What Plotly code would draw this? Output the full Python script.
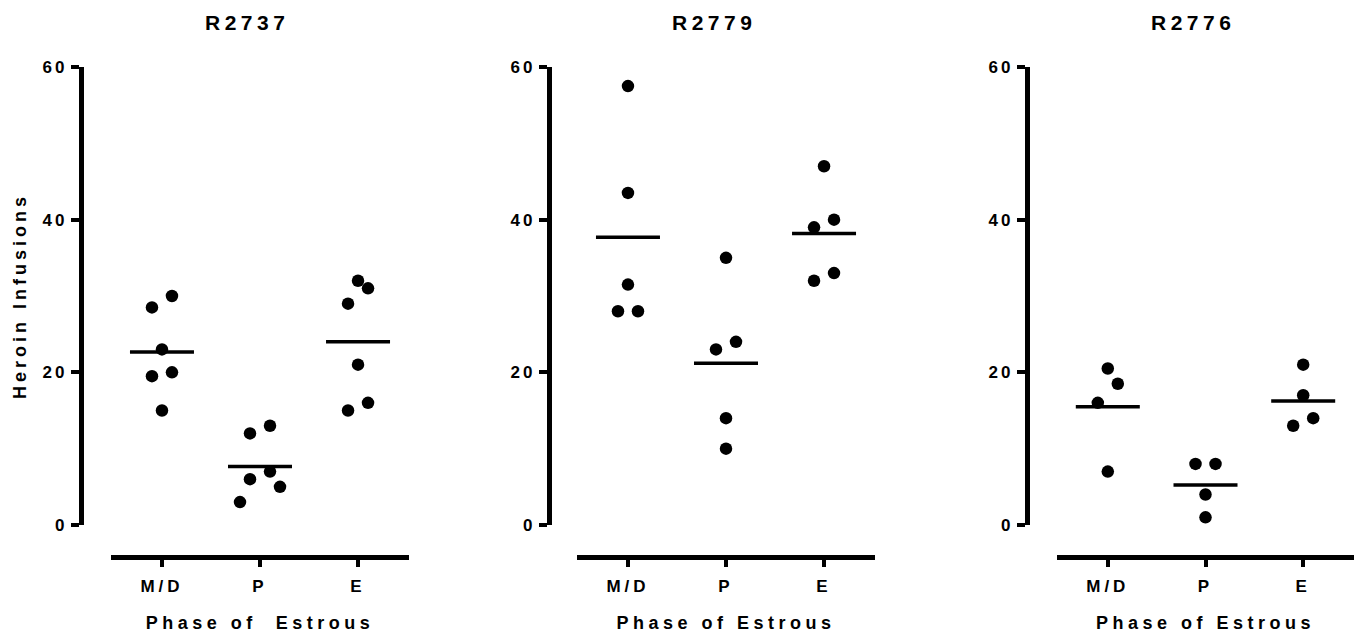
import plotly.graph_objects as go

# ---------------- data ----------------
phases = ["M/D", "P", "E"]
rats = ["R2737", "R2779", "R2776"]

r2737_md = [30, 28.5, 23, 20, 19.5, 15]
r2737_p = [13, 12, 7, 6, 5, 3]
r2737_e = [32, 31, 29, 21, 16, 15]

r2779_md = [57.5, 43.5, 31.5, 28, 28]
r2779_p = [35, 24, 23, 14, 10]
r2779_e = [47, 40, 39, 33, 32]

r2776_md = [20.5, 18.5, 16, 7]
r2776_p = [8, 8, 4, 1]
r2776_e = [21, 17, 14, 13]

y_ticks = [0, 20, 40, 60]
x_titles = ["Phase of  Estrous", "Phase of Estrous", "Phase of Estrous"]
y_title = "Heroin Infusions"

panel_data = [
    [r2737_md, r2737_p, r2737_e],
    [r2779_md, r2779_p, r2779_e],
    [r2776_md, r2776_p, r2776_e],
]

# ---------------- layout geometry (pixels) ----------------
W, H = 1362, 639
Y_TOP, Y_BOT = 67, 525          # pixel rows of y=60 and y=0
X_LINE = 557                    # pixel row of the x axis line
panels_px = [
    dict(yline=80.5, x0=111, x1=409),
    dict(yline=548.5, x0=577, x1=875),
    dict(yline=1026.5, x0=1057, x1=1354),
]
X_RANGE = [-0.52, 2.52]
Y_RANGE = [0, 60]
FONT = "Liberation Sans, Arial, sans-serif"


def ls(text, px):
    return f'<span style="letter-spacing:{px}px">{text}</span>'


def swarm_offsets(vals, px_per_unit, thresh_px=21):
    """Spread points that sit close together vertically into symmetric slots."""
    order = sorted(range(len(vals)), key=lambda i: -vals[i])
    groups = []
    for i in order:
        if groups and (vals[groups[-1][-1]] - vals[i]) * px_per_unit < thresh_px:
            groups[-1].append(i)
        else:
            groups.append([i])
    offs = [0] * len(vals)
    for g in groups:
        n = len(g)
        pairs = [s for k in range(1, n + 1) for s in (k, -k)]
        slots = ([0] + pairs) if n % 2 else pairs
        for i, s in zip(g, slots):
            offs[i] = s
    return offs


fig = go.Figure()
px_per_unit_y = (Y_BOT - Y_TOP) / (Y_RANGE[1] - Y_RANGE[0])

for p, (rat, groups) in enumerate(zip(rats, panel_data)):
    geo = panels_px[p]
    sfx = "" if p == 0 else str(p + 1)
    xname, yname = "x" + sfx, "y" + sfx
    px_per_unit_x = (geo["x1"] - geo["x0"]) / (X_RANGE[1] - X_RANGE[0])
    step = 10 / px_per_unit_x
    half = 32 / px_per_unit_x

    xs, ys, mx, my = [], [], [], []
    for ci, vals in enumerate(groups):
        offs = swarm_offsets(vals, px_per_unit_y)
        for v, o in zip(vals, offs):
            xs.append(ci + o * step)
            ys.append(v)
        m = sum(vals) / len(vals)
        mx += [ci - half, ci + half, None]
        my += [m, m, None]

    fig.add_trace(go.Scatter(
        x=mx, y=my, mode="lines", xaxis=xname, yaxis=yname,
        line=dict(color="black", width=3.5), hoverinfo="skip", showlegend=False,
    ))
    fig.add_trace(go.Scatter(
        x=xs, y=ys, mode="markers", xaxis=xname, yaxis=yname,
        marker=dict(color="black", size=12.5, line=dict(width=0)),
        showlegend=False, name=rat,
    ))

    xaxis = dict(
        domain=[geo["x0"] / W, geo["x1"] / W],
        range=X_RANGE,
        anchor="free",
        position=(H - X_LINE) / H,
        automargin=False,
        showline=True, linewidth=4.5, linecolor="black",
        ticks="outside", ticklen=7, tickwidth=3.5, tickcolor="black",
        ticklabelstandoff=5,
        tickvals=[0, 1, 2],
        ticktext=[ls(t, 4) for t in phases],
        tickfont=dict(family=FONT, size=17, color="black", weight="bold"),
        showgrid=False, zeroline=False, fixedrange=True,
        title=dict(text=ls(x_titles[p], 4.5),
                   font=dict(family=FONT, size=18, color="black", weight="bold"),
                   standoff=21),
    )
    yaxis = dict(
        domain=[(H - Y_BOT) / H, (H - Y_TOP) / H],
        range=Y_RANGE,
        anchor="free",
        position=geo["yline"] / W,
        automargin=False,
        showline=True, linewidth=4.5, linecolor="black",
        ticks="outside", ticklen=8, tickwidth=3.5, tickcolor="black",
        tickvals=y_ticks,
        ticktext=[ls(str(t), 3) for t in y_ticks],
        tickfont=dict(family=FONT, size=17, color="black", weight="bold"),
        showgrid=False, zeroline=False, fixedrange=True,
    )
    if p == 0:
        yaxis["title"] = dict(text=ls(y_title, 4),
                              font=dict(family=FONT, size=18, color="black", weight="bold"),
                              standoff=10)
    fig.layout["xaxis" + sfx] = xaxis
    fig.layout["yaxis" + sfx] = yaxis

    fig.add_annotation(
        x=(geo["yline"] + geo["x1"]) / 2 / W + 2.5 / W, y=(H - 22.5) / H,
        xref="paper", yref="paper", xanchor="center", yanchor="middle",
        text=ls(rat, 4.5), showarrow=False,
        font=dict(family=FONT, size=21, color="black", weight="bold"),
    )

fig.update_layout(
    width=W, height=H,
    margin=dict(l=0, r=0, t=0, b=0),
    paper_bgcolor="white", plot_bgcolor="white",
    showlegend=False,
)

fig.write_html("out.html", config={"displayModeBar": False})
